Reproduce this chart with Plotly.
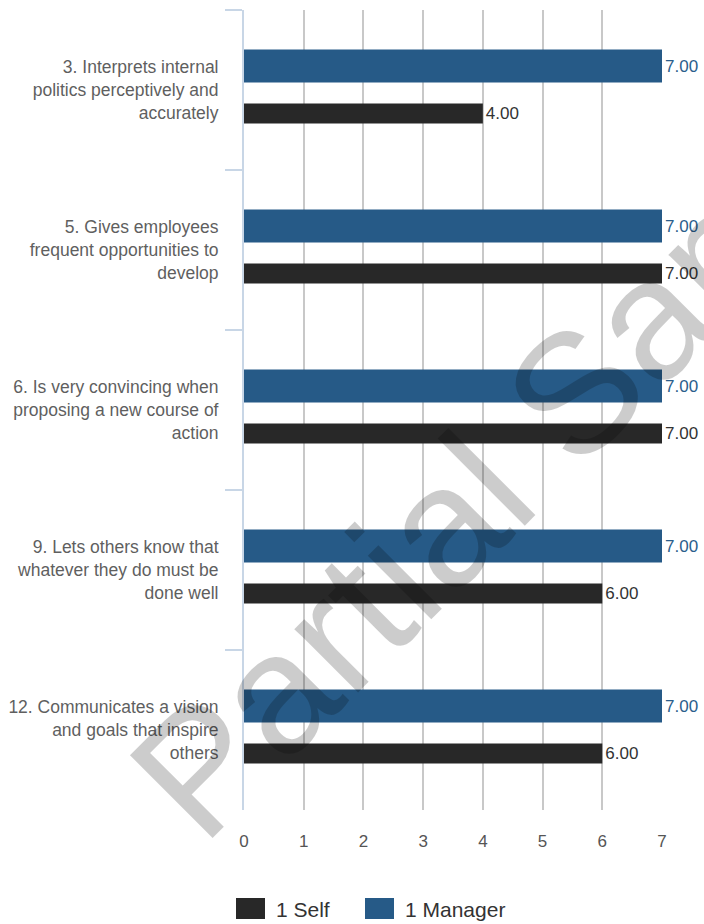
import plotly.graph_objects as go

# Survey items (top to bottom) and scores
items = [
    "3. Interprets internal<br>politics perceptively and<br>accurately",
    "5. Gives employees<br>frequent opportunities to<br>develop",
    "6. Is very convincing when<br>proposing a new course of<br>action",
    "9. Lets others know that<br>whatever they do must be<br>done well",
    "12. Communicates a vision<br>and goals that inspire<br>others",
]
self_scores = [4, 7, 7, 6, 6]
manager_scores = [7, 7, 7, 7, 7]
x_ticks = [0, 1, 2, 3, 4, 5, 6, 7]
series_names = ["1 Self", "1 Manager"]

SELF_COLOR = "#282828"
MANAGER_COLOR = "#265a87"
AXIS_BLUE = "#c8d6e6"
FONT = "Liberation Sans, Arial, sans-serif"

W, H = 704, 924
L, R, T, B = 244, 42, 10, 114
PW, PH = W - L - R, H - T - B


def px_x(p):
    return (p - L) / PW


def px_y(p):
    return (H - B - p) / PH


fig = go.Figure()

fig.add_trace(go.Bar(
    y=items, x=manager_scores, orientation="h", name=series_names[1],
    marker=dict(color=MANAGER_COLOR, line=dict(width=0)),
    width=0.206, offset=-0.253,
    texttemplate="%{x:.2f}", textposition="outside",
    textfont=dict(family=FONT, size=17, color="#2b5e8c"),
    cliponaxis=False, constraintext="none", showlegend=False,
))
fig.add_trace(go.Bar(
    y=items, x=self_scores, orientation="h", name=series_names[0],
    marker=dict(color=SELF_COLOR, line=dict(width=0)),
    width=0.125, offset=0.084,
    texttemplate="%{x:.2f}", textposition="outside",
    textfont=dict(family=FONT, size=17, color="#333333"),
    cliponaxis=False, constraintext="none", showlegend=False,
))

# Legend drawn as swatches with captions under the axis
legend_shapes = []
notes = []
for name, color, x0 in [(series_names[0], SELF_COLOR, 236), (series_names[1], MANAGER_COLOR, 365)]:
    legend_shapes.append(dict(
        type="rect", xref="paper", yref="paper",
        x0=px_x(x0), x1=px_x(x0 + 29), y0=px_y(919), y1=px_y(898),
        fillcolor=color, line=dict(width=0),
    ))
    notes.append(dict(
        text=name, xref="paper", yref="paper", x=px_x(x0 + 38), y=px_y(909),
        xanchor="left", yanchor="middle", showarrow=False,
        font=dict(family=FONT, size=21, color="#333333"),
    ))

# Watermark across the plot
notes.append(dict(
    text="Partial Sample", xref="paper", yref="paper",
    x=px_x(552), y=px_y(415), xanchor="center", yanchor="middle",
    textangle=-45, showarrow=False,
    font=dict(family=FONT, size=170, color="rgba(0,0,0,0.2)"),
))

fig.update_layout(
    width=W, height=H,
    margin=dict(l=L, r=R, t=T, b=B, pad=0, autoexpand=False),
    paper_bgcolor="white", plot_bgcolor="white",
    barmode="overlay",
    shapes=legend_shapes,
    annotations=notes,
    xaxis=dict(
        range=[0, 7], tickvals=x_ticks, ticktext=[str(v) for v in x_ticks],
        showgrid=True, gridcolor="#c8c8c8", gridwidth=1.5,
        zeroline=False, showline=False, ticks="",
        ticklabelstandoff=19, automargin=False,
        tickfont=dict(family=FONT, size=17, color="#555555"),
        fixedrange=True,
    ),
    yaxis=dict(
        type="category", categoryorder="array", categoryarray=items,
        range=[4.5, -0.5],
        showgrid=False, zeroline=False,
        showline=True, linecolor=AXIS_BLUE, linewidth=2,
        ticks="outside", tickson="boundaries", ticklen=17,
        tickcolor=AXIS_BLUE, tickwidth=2,
        ticklabelstandoff=20, automargin=False,
        tickfont=dict(family=FONT, size=17.5, color="#5f5f5f"),
        fixedrange=True,
    ),
)

fig.write_html("out.html")
